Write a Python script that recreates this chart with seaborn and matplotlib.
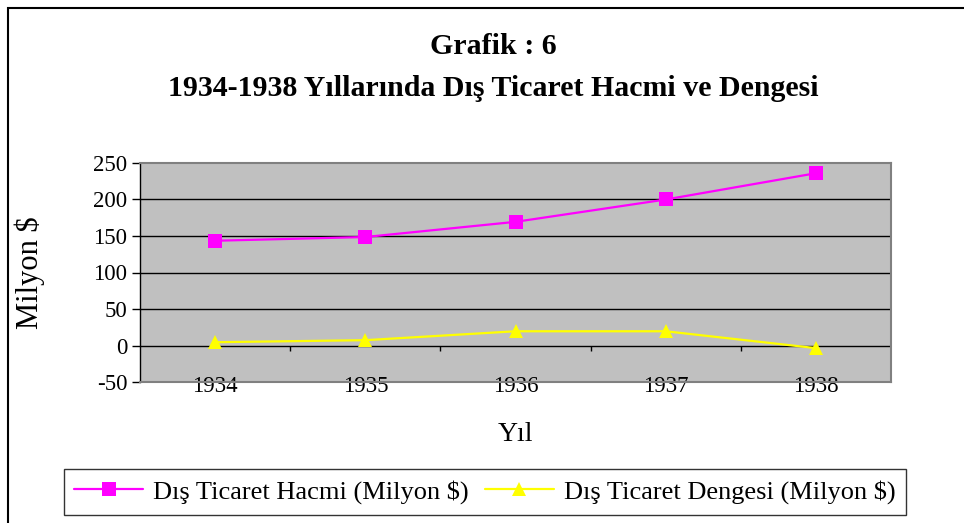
import pandas as pd
import seaborn as sns
import numpy as np
import matplotlib.pyplot as plt
from matplotlib.patches import Rectangle

# values
years = [1934, 1935, 1936, 1937, 1938]
hacim = [143.5, 148.6, 169.4, 200, 236]
denge = [4.5, 7.3, 19.5, 19.5, -3.6]
series_names = ['Dış Ticaret Hacmi (Milyon $)', 'Dış Ticaret Dengesi (Milyon $)']
y_ticks = [-50, 0, 50, 100, 150, 200, 250]

df = pd.DataFrame({
    'Yıl': years * 2,
    'Değer': hacim + denge,
    'Seri': [series_names[0]] * len(years) + [series_names[1]] * len(years),
})

sns.set_style('white')
plt.rcParams['font.family'] = ['Liberation Serif', 'DejaVu Serif']
plt.rcParams['text.color'] = 'black'
plt.rcParams['axes.labelcolor'] = 'black'
plt.rcParams['xtick.color'] = 'black'
plt.rcParams['ytick.color'] = 'black'
plt.rcParams['axes.unicode_minus'] = False

fig = plt.figure(figsize=(9.64, 5.23), dpi=100)
ax = fig.add_axes([140 / 964, 1 - 382 / 523, 751 / 964, 219 / 523])
ax.set_facecolor('#C0C0C0')

sns.lineplot(data=df, x='Yıl', y='Değer', hue='Seri', style='Seri',
             palette=['#FF00FF', '#FFFF00'], markers=['s', '^'], dashes=False,
             markersize=9.5, markeredgewidth=0, linewidth=1.6, ax=ax, legend=True)

ax.set_xlim(years[0] - 0.5, years[-1] + 0.5)
ax.set_ylim(y_ticks[0], y_ticks[-1])
ax.set_yticks(y_ticks)
ax.set_xticks(years)
ax.set_xticklabels([str(y) for y in years])

# horizontal gridlines
for v in y_ticks[1:-1]:
    ax.axhline(v, color='black', lw=1, zorder=1)

# category tick marks sitting on the zero line
ax.vlines(np.array(years[:-1]) + 0.5, -7, 0, color='black', lw=1, zorder=1)

for s in ['top', 'right', 'bottom']:
    ax.spines[s].set_color('#808080')
    ax.spines[s].set_linewidth(1.5)
ax.spines['left'].set_color('black')
ax.spines['left'].set_linewidth(1)

ax.tick_params(axis='y', left=True, length=6, width=1, color='black', labelsize=16.5, pad=3)
ax.tick_params(axis='x', bottom=False, labelsize=16.5, pad=-8)

ax.set_ylabel('Milyon $', fontsize=22, ha='center', va='center')
ax.yaxis.set_label_coords((30 - 140) / 751, 0.5)
ax.set_xlabel('Yıl', fontsize=20, labelpad=18)

leg = ax.legend(handles=ax.get_legend_handles_labels()[0], labels=series_names,
                loc='center', bbox_to_anchor=(485 / 964, 1 - 492 / 523),
                bbox_transform=fig.transFigure, ncol=2, fontsize=19,
                frameon=True, fancybox=False, edgecolor='black',
                handlelength=2.6, handletextpad=0.4, columnspacing=0.6,
                borderpad=0.4)
leg.get_frame().set_linewidth(1)

fig.text(493 / 964, 1 - 46 / 523, 'Grafik : 6', ha='center', va='center',
         fontsize=21.5, fontweight='bold')
fig.text(493 / 964, 1 - 89 / 523, '1934-1938 Yıllarında Dış Ticaret Hacmi ve Dengesi',
         ha='center', va='center', fontsize=21.5, fontweight='bold')

# outer chart border (cut off on the right and bottom)
fig.patches.append(Rectangle((8 / 964, -0.1), 1.2, 1.1 - 8 / 523, transform=fig.transFigure,
                             fill=False, ec='black', lw=1.5))

plt.savefig('out.png', dpi=100)
